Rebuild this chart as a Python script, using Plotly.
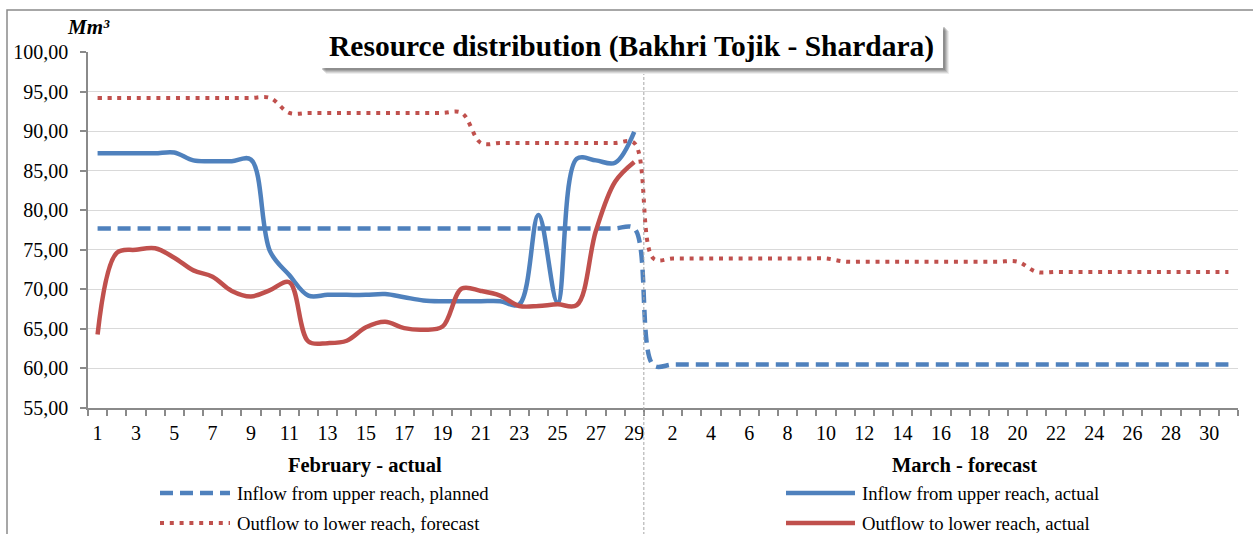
import plotly.graph_objects as go

# ---------------- data ----------------
feb_days = list(range(1, 30))
mar_days = list(range(1, 32))
day_labels = [str(d) for d in feb_days] + [str(d) for d in mar_days]

inflow_planned = [
    77.7, 77.7, 77.7, 77.7, 77.7, 77.7, 77.7, 77.7, 77.7, 77.7,
    77.7, 77.7, 77.7, 77.7, 77.7, 77.7, 77.7, 77.7, 77.7, 77.7,
    77.7, 77.7, 77.7, 77.7, 77.7, 77.7, 77.7, 77.7, 77.7,
    60.4, 60.5, 60.5, 60.5, 60.5, 60.5, 60.5, 60.5, 60.5, 60.5,
    60.5, 60.5, 60.5, 60.5, 60.5, 60.5, 60.5, 60.5, 60.5, 60.5,
    60.5, 60.5, 60.5, 60.5, 60.5, 60.5, 60.5, 60.5, 60.5, 60.5, 60.5,
]
outflow_forecast = [
    94.2, 94.2, 94.2, 94.2, 94.2, 94.2, 94.2, 94.2, 94.2, 94.2,
    92.3, 92.3, 92.3, 92.3, 92.3, 92.3, 92.3, 92.3, 92.3, 92.3,
    88.5, 88.5, 88.5, 88.5, 88.5, 88.5, 88.5, 88.5, 88.5,
    73.9, 73.9, 73.9, 73.9, 73.9, 73.9, 73.9, 73.9, 73.9, 73.9,
    73.5, 73.5, 73.5, 73.5, 73.5, 73.5, 73.5, 73.5, 73.5, 73.5,
    72.2, 72.2, 72.2, 72.2, 72.2, 72.2, 72.2, 72.2, 72.2, 72.2, 72.2,
]
inflow_actual = [
    87.2, 87.2, 87.2, 87.2, 87.3, 86.3, 86.2, 86.2, 86.4, 74.8,
    71.8, 69.2, 69.3, 69.3, 69.3, 69.4, 69.0, 68.6, 68.5, 68.5,
    68.5, 68.5, 68.1, 79.4, 68.3, 86.5, 86.3, 86.0, 89.9,
]
outflow_actual = [
    64.3, 74.6, 75.0, 75.2, 74.0, 72.4, 71.6, 69.8, 69.1, 69.9,
    70.9, 63.4, 63.2, 63.5, 65.2, 65.9, 65.1, 64.9, 65.3, 70.1,
    69.8, 69.2, 67.9, 67.9, 68.1, 68.0, 77.4, 83.6, 86.1,
]

series_names = [
    "Inflow from upper reach, planned",
    "Inflow from upper reach, actual",
    "Outflow to lower reach, forecast",
    "Outflow to lower reach, actual",
]
title_text = "Resource distribution (Bakhri Tojik - Shardara)"
group_titles = ["February - actual", "March - forecast"]

# ---------------- layout helpers ----------------
W, H = 1253, 534
L, R, T, B = 88, 1238, 52, 408  # plot area in pixels


def px(xp):
    return (xp - L) / (R - L)


def py(yp):
    return (B - yp) / (B - T)


BLUE = "#4F81BD"
RED = "#C0504D"
FONT = "Liberation Serif"
DASH_PLAN = "13px,7px"
DOT_FC = "4px,5.8px"

x_all = list(range(len(day_labels)))
x_feb = list(range(len(feb_days)))

fig = go.Figure()
fig.add_trace(go.Scatter(x=x_all, y=inflow_planned, mode="lines", name=series_names[0],
                         line=dict(color=BLUE, width=4.5, dash=DASH_PLAN, shape="spline", smoothing=1),
                         showlegend=False))
fig.add_trace(go.Scatter(x=x_all, y=outflow_forecast, mode="lines", name=series_names[2],
                         line=dict(color=RED, width=4, dash=DOT_FC, shape="spline", smoothing=1),
                         showlegend=False))
fig.add_trace(go.Scatter(x=x_feb, y=inflow_actual, mode="lines", name=series_names[1],
                         line=dict(color=BLUE, width=4.5, shape="spline", smoothing=1),
                         showlegend=False))
fig.add_trace(go.Scatter(x=x_feb, y=outflow_actual, mode="lines", name=series_names[3],
                         line=dict(color=RED, width=4.5, shape="spline", smoothing=1),
                         showlegend=False))

tickvals = x_all[::2]
ticktext = day_labels[::2]

shapes = []
annotations = []

# chart border (cropped)
shapes.append(dict(type="rect", xref="paper", yref="paper",
                   x0=px(7), x1=px(1275), y0=py(560), y1=py(10),
                   line=dict(color="#8a8a8a", width=1.5), fillcolor="rgba(0,0,0,0)", layer="below"))

# separator between months
shapes.append(dict(type="line", xref="x", yref="paper", x0=len(feb_days) - 0.5, x1=len(feb_days) - 0.5,
                   y0=py(560), y1=py(74), line=dict(color="#a6a6a6", width=1, dash="3px,2px"), layer="above"))

# title box with shadow
for off, op in [(6, 0.10), (5, 0.15), (4, 0.2), (3, 0.25), (2, 0.3)]:
    shapes.append(dict(type="rect", xref="paper", yref="paper",
                       x0=px(320 + off), x1=px(943 + off), y0=py(68 + off), y1=py(25 + off),
                       line=dict(width=0), fillcolor=f"rgba(90,90,90,{op})", layer="above"))
shapes.append(dict(type="rect", xref="paper", yref="paper",
                   x0=px(320), x1=px(943), y0=py(68), y1=py(25),
                   line=dict(width=0), fillcolor="white", layer="above"))
annotations.append(dict(text="<b>" + title_text + "</b>", xref="paper", yref="paper",
                        x=px(631), y=py(47), showarrow=False, xanchor="center", yanchor="middle",
                        font=dict(family=FONT, size=29.5, color="black")))

# unit label
annotations.append(dict(text="<b><i>Mm³</i></b>", xref="paper", yref="paper",
                        x=px(88), y=py(27), showarrow=False, xanchor="center", yanchor="middle",
                        font=dict(family=FONT, size=21, color="black")))

# group titles
annotations.append(dict(text="<b>" + group_titles[0] + "</b>", xref="paper", yref="paper",
                        x=px(365), y=py(465), showarrow=False, xanchor="center", yanchor="middle",
                        font=dict(family=FONT, size=20.5, color="black")))
annotations.append(dict(text="<b>" + group_titles[1] + "</b>", xref="paper", yref="paper",
                        x=px(964), y=py(465), showarrow=False, xanchor="center", yanchor="middle",
                        font=dict(family=FONT, size=20.5, color="black")))

# manual legend
legend_items = [
    (series_names[0], BLUE, 4.5, DASH_PLAN, 160, 230, 493),
    (series_names[2], RED, 4, DOT_FC, 160, 230, 523),
    (series_names[1], BLUE, 4.5, None, 786, 855, 493),
    (series_names[3], RED, 4.5, None, 786, 855, 523),
]
for name, col, w, dash, xa, xb, yy in legend_items:
    ln = dict(color=col, width=w)
    if dash:
        ln["dash"] = dash
    shapes.append(dict(type="line", xref="paper", yref="paper", x0=px(xa), x1=px(xb),
                       y0=py(yy), y1=py(yy), line=ln, layer="above"))
    annotations.append(dict(text=name, xref="paper", yref="paper", x=px(xb + 5), y=py(yy),
                            showarrow=False, xanchor="left", yanchor="middle",
                            font=dict(family=FONT, size=18.7, color="black")))

fig.update_layout(
    width=W, height=H,
    margin=dict(l=L, r=W - R, t=T, b=H - B, autoexpand=False),
    paper_bgcolor="white", plot_bgcolor="white",
    separators=", ",
    font=dict(family=FONT, size=20, color="black"),
    shapes=shapes, annotations=annotations,
    showlegend=False,
    xaxis=dict(range=[-0.5, len(day_labels) - 0.5], tickmode="array", tickvals=tickvals, ticktext=ticktext,
               ticks="", showgrid=False, zeroline=False, showline=True, linecolor="#8a8a8a", linewidth=1.5,
               tickfont=dict(family=FONT, size=20, color="black"), ticklabelstandoff=6,
               minor=dict(tickmode="linear", tick0=-0.5, dtick=1, ticks="outside", ticklen=6,
                          tickcolor="#8a8a8a", tickwidth=1.5, showgrid=False)),
    yaxis=dict(range=[55, 100], tickmode="linear", tick0=55, dtick=5, tickformat=".2f",
               ticks="outside", ticklen=6, tickcolor="#8a8a8a", tickwidth=1.5,
               showgrid=True, gridcolor="#d9d9d9", gridwidth=1, zeroline=False,
               showline=True, linecolor="#8a8a8a", linewidth=1.5,
               tickfont=dict(family=FONT, size=20, color="black"), ticklabelstandoff=8),
)

fig.write_html("out.html", config={"displayModeBar": False},
               post_script="document.body.style.margin='0px';document.body.style.overflow='hidden';")
